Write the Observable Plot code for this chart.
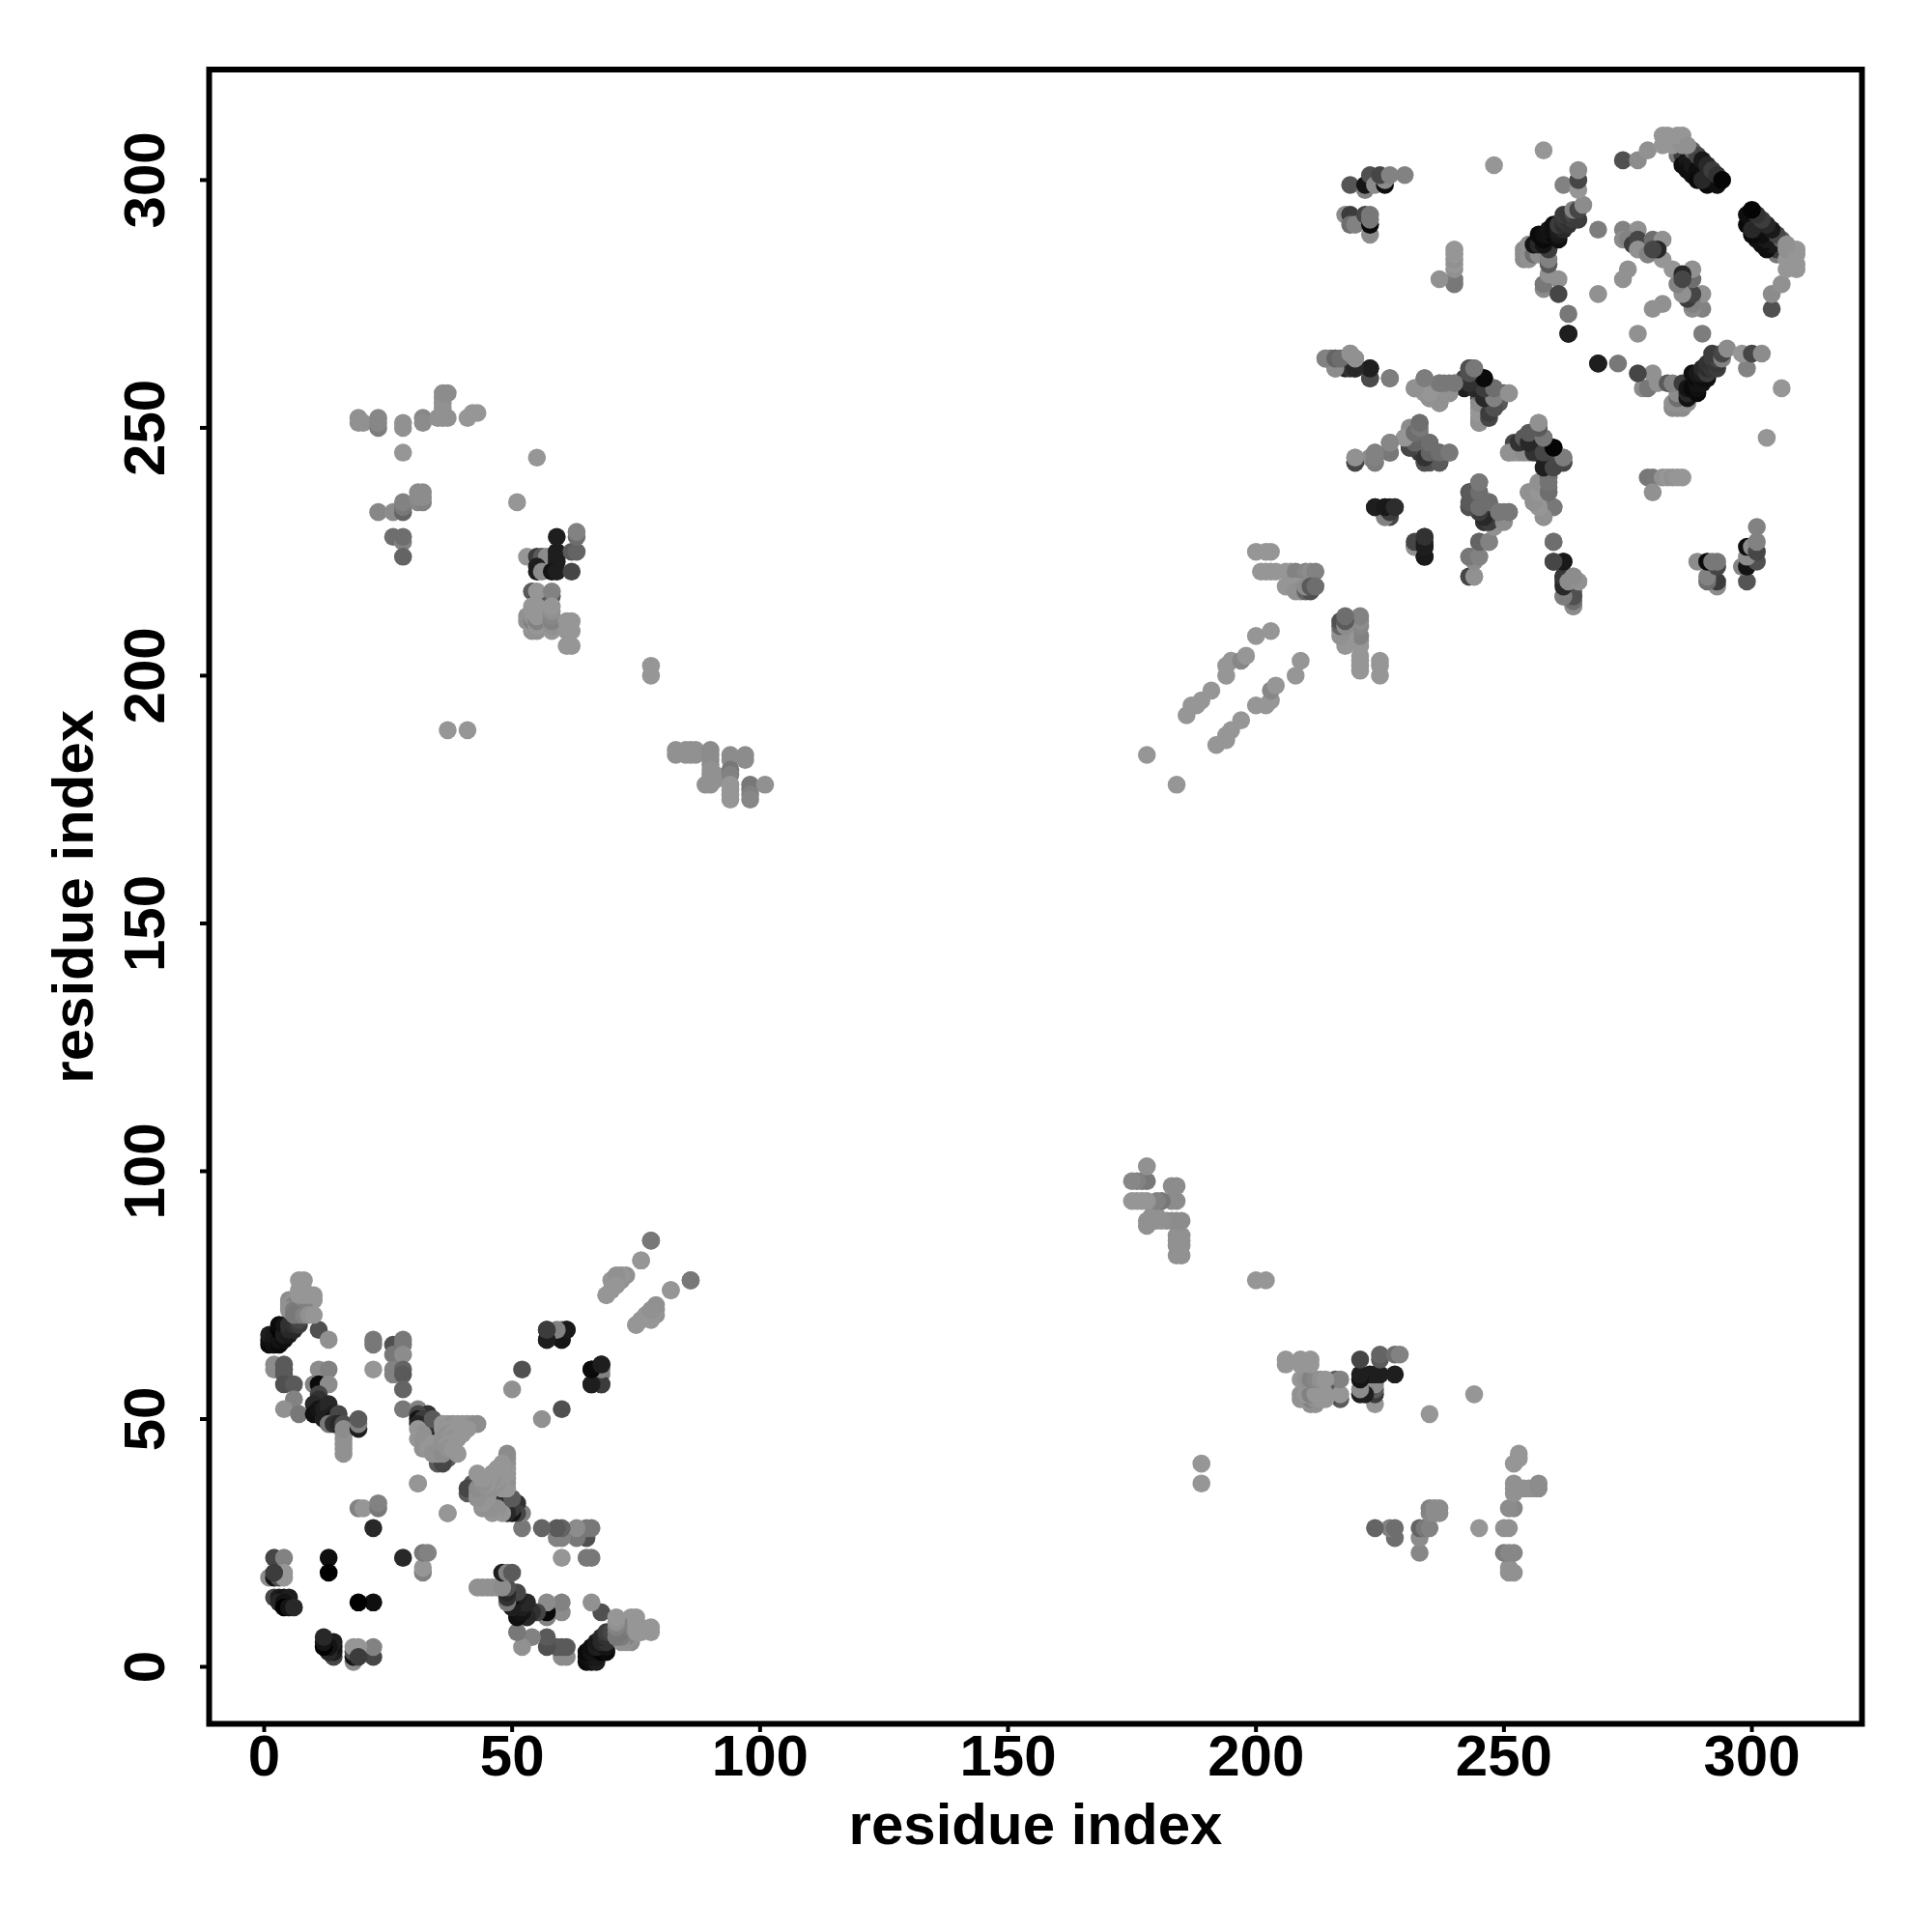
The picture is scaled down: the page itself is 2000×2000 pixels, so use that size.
<!DOCTYPE html>
<html><head><meta charset="utf-8">
<style>html,body{margin:0;padding:0;background:#fff;overflow:hidden}</style>
<script src="https://cdn.jsdelivr.net/npm/d3@7"></script>
<script src="https://cdn.jsdelivr.net/npm/@observablehq/plot@0.6"></script>
</head><body>
<div id="chart"></div>
<script>
// Each entry: [residue i, residue j, grey level]. The contact map is symmetric; i<j half is listed.
const tickValues = [0,50,100,150,200,250,300];
const axisLabel = "residue index";

const blockNearHelix = [
[16,43,145],[16,44,145],[16,45,145],[16,46,145],[16,47,145],
[2,60,140],[2,61,140],[4,61,90],[4,60,90],[4,59,90],[4,57,80],[6,57,90],[6,54,130],[4,52,145],[7,51,120],
[11,60,140],[13,60,130],[10,57,130],[11,57,10],[13,57,140],
[11,55,70],[11,54,50],[10,53,40],[10,51,15],[11,52,20],[12,52,30],[13,53,40],[13,52,40],[14,51,30],[12,50,30],[14,50,20],[15,51,70],[13,49,120],[14,49,50],[15,49,40],[16,49,80],[16,48,140],[19,48,30],[19,49,130],[19,50,90],
[22,66,120],[22,65,120],[22,60,150],[26,65,80],[28,66,120],[28,65,120],[26,63,120],[28,63,140],[26,60,130],[26,59,130],[28,60,100],[28,59,90],[28,56,100],[28,52,120]
];
const blockDarkBand = [
[1,65,10],[1,66,15],[1,67,30],[2,65,15],[2,66,20],[2,67,25],[3,65,10],[3,66,20],[3,68,5],[3,69,10],[4,66,15],[4,67,30],[4,69,20],[5,67,25],[5,68,40],[5,69,50],[6,68,40],[6,69,50],[7,69,60],[7,70,70],
[11,68,80],[13,66,145],
[5,74,140],[6,74,145],[7,74,145],[8,74,140],[9,74,145],[10,74,150],[5,73,145],[6,73,130],[7,73,130],[8,73,135],[5,72,145],[6,72,125],[7,72,120],[8,72,130],[6,71,120],[7,71,120],[8,71,130],[9,71,145],[10,71,150],[7,76,150],[8,76,150],[7,75,150],[8,75,150],[9,75,150],[10,75,150],[7,78,150],[8,78,150]
];
const blockShortRange = [
[2,22,70],[4,22,130],[1,18,140],[2,18,20],[3,18,80],[4,18,150],[4,19,150],[2,19,60],
[2,14,70],[3,14,30],[4,14,20],[5,14,30],[3,13,40],[4,13,20],[4,12,0],[5,12,20],[6,12,40],
[13,22,15],[13,19,0],[19,32,130],[20,32,150],[22,28,40],[23,32,120],[23,33,130]
];
const blockTriangle = [
[31,52,130],[33,51,50],[31,51,70],[31,50,20],[32,50,60],[33,49,50],[31,49,40],[32,48,60],[33,48,50],[34,50,90],
[35,41,90],[36,42,70],[37,42,90],[36,41,70],[31,48,150],[32,47,145],[31,46,150],[32,46,145],[33,45,145],[34,45,150],[32,44,145],[33,44,150],[34,43,145],[35,43,145],[36,43,140],
[36,49,150],[37,49,150],[38,49,145],[39,49,150],[40,49,150],[41,49,150],[42,49,145],[43,49,140],[36,48,150],[37,48,150],[38,48,150],[39,48,150],[40,48,150],[41,48,150],[37,47,145],[38,47,150],[39,47,150],[40,47,150],[36,46,145],[37,46,150],[38,46,145],[39,46,150],[36,45,145],[37,45,150],[38,45,150],[37,44,145],[38,44,150],[39,43,150],
[31,37,150],[37,31,150]
];
const blockArms = [
[52,60,80],[50,56,145],[57,68,60],[57,66,30],[60,68,130],[60,66,10],[61,68,30],[66,60,20],[68,61,25],[68,59,130],[66,57,30],[68,57,60],
[78,86,120],[76,82,150],[72,79,150],[73,79,145],[70,78,150],[71,77,150],[72,78,145],[69,75,150],
[86,78,120],[82,76,150],[79,72,150],[78,71,145],[79,71,145],[75,69,150],[76,70,150],[77,71,150]
];
const blockTopLeft = [
[19,252,145],[19,251,145],[20,251,145],[23,250,125],[23,251,135],[23,252,135],[28,250,145],[28,251,145],[28,245,150],[32,252,135],[32,251,140],
[35,252,145],[36,252,145],[37,252,145],[36,253,145],[36,254,145],[36,255,145],[36,256,145],[36,257,140],[37,257,140],
[41,252,150],[42,253,150],[43,253,150],[55,244,150],[51,235,150],
[23,233,135],[26,233,140],[28,233,100],[28,234,120],[28,235,130],[31,235,135],[32,235,130],[31,236,140],[32,236,140],[31,237,140],[32,237,140],
[26,228,110],[28,227,130],[28,228,110],[28,224,100]
];
const blockHelixPair = [
[54,217,90],[55,216,70],[58,216,90],[55,217,150],[58,217,130],
[53,224,150],[55,224,60],[56,224,90],[57,224,140],[59,223,30],[59,224,30],[59,225,30],[59,228,30],[55,222,30],[55,221,30],[56,221,140],[58,221,20],[59,221,30],[62,221,70],[62,225,90],[63,225,100],[63,228,110],[63,229,130],
[53,211,145],[53,212,145],[54,209,145],[54,210,150],[54,211,130],[54,212,145],[54,213,150],[54,214,150],[55,209,145],[55,210,150],[55,211,130],[55,212,150],[55,213,150],[55,214,150],[58,209,150],[58,210,145],[58,211,130],[58,212,135],[58,213,145],[58,214,150],
[61,209,150],[62,209,150],[61,211,150],[62,211,150],[61,206,150],[62,206,150],
[78,202,150],[78,200,150],[37,189,150],[41,189,150]
];
const blockStrandTail = [
[83,185,145],[83,184,145],[85,185,145],[86,185,145],[87,185,145],[85,184,145],[86,184,145],[87,184,145],[90,185,140],[90,184,140],[90,183,140],[90,182,140],[90,181,145],[90,180,145],[90,179,145],[90,178,145],[89,178,145],[91,180,145],[91,179,145],[94,184,140],[94,183,140],[97,184,140],[97,183,140],
[94,181,120],[94,180,130],[94,178,150],[94,177,150],[94,176,150],[94,175,150],[98,178,120],[98,177,120],[98,176,130],[98,175,135],[101,178,145]
];
const blockCoilStreams = [
[178,184,150],[186,192,150],[187,194,150],[188,194,150],[189,195,150],[191,197,150],[194,200,150],[194,202,150],[195,203,150],[197,203,135],[198,204,150],[200,208,150],[203,209,150],
[200,225,150],[202,225,150],[203,225,150],[201,221,150],[202,221,150],[203,221,150],[204,221,150],[206,221,150],[207,221,150],[208,221,130],[210,221,135],[211,221,140],[212,221,130],
[206,218,150],[207,218,150],[208,218,150],[208,217,145],[209,217,145],[210,217,100],[211,217,80],[210,218,140],[211,218,90],[212,218,110]
];
const blockPairA = [
[219,299,85],[222,298,130],[222,299,20],[223,301,80],[224,299,140],[226,299,15],[226,300,140],[225,301,70],[227,301,130],[230,301,130],
[218,293,140],[219,293,60],[219,291,110],[220,291,130],[222,293,70],[223,289,140],[223,291,10],[223,292,120],[223,293,120],
[240,279,120],[240,280,120],[237,280,145],[240,282,145],[240,283,150],[240,284,145],[240,285,150],[240,286,150]
];
const blockHelixOne = [
[258,278,140],[258,279,120],[259,281,145],[254,284,140],[254,285,140],[254,286,140],[255,284,145],[255,285,145],[255,287,145],[256,285,110],[257,285,140],[259,283,90],[259,284,130],[259,286,60],[256,287,20],[257,287,40],[258,287,20],[258,288,10],[257,289,10],[258,289,15],[259,289,20],[260,289,10],[259,290,20],[260,290,15],[261,288,15],[261,289,25],[260,291,15],[261,290,30],[262,290,40],[261,291,60],[262,291,45],[263,291,50],[262,292,55],[263,292,50],[264,292,60],[262,293,60],[263,293,55],[264,293,70],[265,292,60],[264,294,130],[265,294,70],[266,295,140],
[261,280,145],[261,277,70],[263,273,120],[263,269,30],[269,290,125],[269,277,145],[269,263,30],[262,299,130],[265,298,150],[265,300,70],[265,302,140],[248,303,150],[258,306,150]
];
const blockHelixTwo = [
[274,304,80],[277,304,140],[279,306,145],[285,305,120],[286,305,60],[286,303,15],[287,304,25],[287,302,15],[288,301,15],[288,303,25],[289,302,15],[289,300,10],[290,301,15],[291,299,10],[291,301,30],[292,300,15],[293,299,15],[290,300,40],[288,306,100],[289,305,70],[290,304,25],[291,303,40],[292,302,60],[293,301,50],[294,300,5],
[282,307,150],[284,307,150],[286,307,145],[282,309,150],[283,309,150],[285,309,150],[286,309,150],[287,307,145],[282,284,150]
];
const blockInner = [
[274,290,130],[277,290,145],[274,288,140],[275,288,130],[276,287,60],[277,288,70],[277,286,145],[280,288,110],[282,288,145],[279,285,130],[281,286,40],[280,286,70],[275,282,145],[274,280,145]
];
const blockMiddle = [
[214,264,140],[215,264,110],[216,264,80],[216,262,125],[218,262,40],[220,262,55],[219,263,140],[219,265,145],[220,264,140],[223,262,25],[223,260,70],[227,260,110],
[234,260,120],[232,258,145],[234,257,150],[235,256,145],[237,255,145],[237,257,150],[239,257,145],[237,259,110],[239,259,115],[240,259,115],
[245,251,145],[245,254,140],[247,253,50],[248,254,90],[245,256,50],[247,255,40],[249,255,90],[242,258,30],[245,258,70],[242,260,70],[243,262,70],[244,262,125],[246,260,5],[248,258,120],[250,257,90],[251,257,145],
[220,243,70],[220,244,145],[223,244,140],[224,243,120],[224,245,130],[227,245,100],[227,247,130],[230,248,145],[231,246,50],[231,247,60],[232,246,40],[233,245,60],[234,243,80],[235,243,90],[234,245,110],[237,243,90],[235,247,110],[237,245,110],[239,245,120],[231,250,140],[233,249,120],[233,251,120],
[251,245,145],[252,245,145],[253,245,150],[255,245,140],[257,245,110],[252,247,70],[253,247,60],[254,248,80],[256,246,40],[256,248,130],[258,244,40],[258,246,60],[259,243,50],[258,248,110],[257,251,145],[260,246,10],[261,243,80],[262,243,80],[262,244,120]
];
const blockLower = [
[226,232,145],[227,232,70],[224,234,25],[226,234,30],[227,234,30],[228,234,50],
[232,226,130],[233,227,60],[234,224,30],[234,226,25],[234,228,45],
[243,234,80],[243,237,90],[244,234,50],[245,235,100],[245,237,110],[245,239,120],[246,231,70],[247,232,100],[247,235,110],[248,230,150],[249,232,110],[250,233,120],[251,233,110],
[245,227,120],[247,227,135],[243,224,125],[244,224,130],[245,224,130],[243,220,70],[244,220,145],
[255,237,145],[256,235,145],[257,235,150],[257,239,145],[258,232,145],[259,237,120],[259,238,120],[259,240,120],[260,234,125],
[260,227,125],[260,223,75],[262,223,30],[262,219,50],[262,220,40],[262,216,140],[264,214,130],[264,216,100],[264,217,110],[264,220,145],[265,219,145]
];

const blocks = [blockNearHelix, blockDarkBand, blockShortRange, blockTriangle, blockArms, blockTopLeft, blockHelixPair, blockStrandTail, blockCoilStreams, blockPairA, blockHelixOne, blockHelixTwo, blockInner, blockMiddle, blockLower];
const half = blocks.flat();
const contacts = [...half, ...half.map(([i,j,g]) => [j,i,g])].map(([i,j,g]) => ({i,j,g}));

const chart = Plot.plot({
  width: 2000, height: 2000,
  marginLeft: 216, marginRight: 73, marginTop: 71.5, marginBottom: 216,
  style: {fontFamily: "'Liberation Sans', Arial, sans-serif", fontWeight: "bold", fontSize: "60px", color: "#000", background: "#fff", overflow: "visible"},
  x: {domain: [-11.1, 322.2]},
  y: {domain: [-11.5, 322.3]},
  color: {type: "linear", domain: [0, 255], range: ["#000", "#fff"]},
  marks: [
    Plot.dot(contacts, {x: "i", y: "j", r: 9.3, fill: "g", stroke: "none"}),
    Plot.frame({stroke: "#000", strokeWidth: 6}),
    Plot.axisX({ticks: tickValues, tickSize: 9, strokeWidth: 4, tickPadding: 2, fontSize: 60, fontWeight: "bold", tickFormat: d => String(d), label: axisLabel, labelAnchor: "center", labelArrow: "none", labelOffset: 124, stroke:"#000"}),
    Plot.axisY({ticks: tickValues, tickSize: 9, strokeWidth: 4, tickPadding: 38, fontSize: 60, fontWeight: "bold", tickRotate: -90, tickFormat: d => String(d), label: axisLabel, labelAnchor: "center", labelArrow: "none", labelOffset: 163, stroke:"#000"})
  ]
});
document.getElementById("chart").appendChild(chart);
</script>
</body></html>
